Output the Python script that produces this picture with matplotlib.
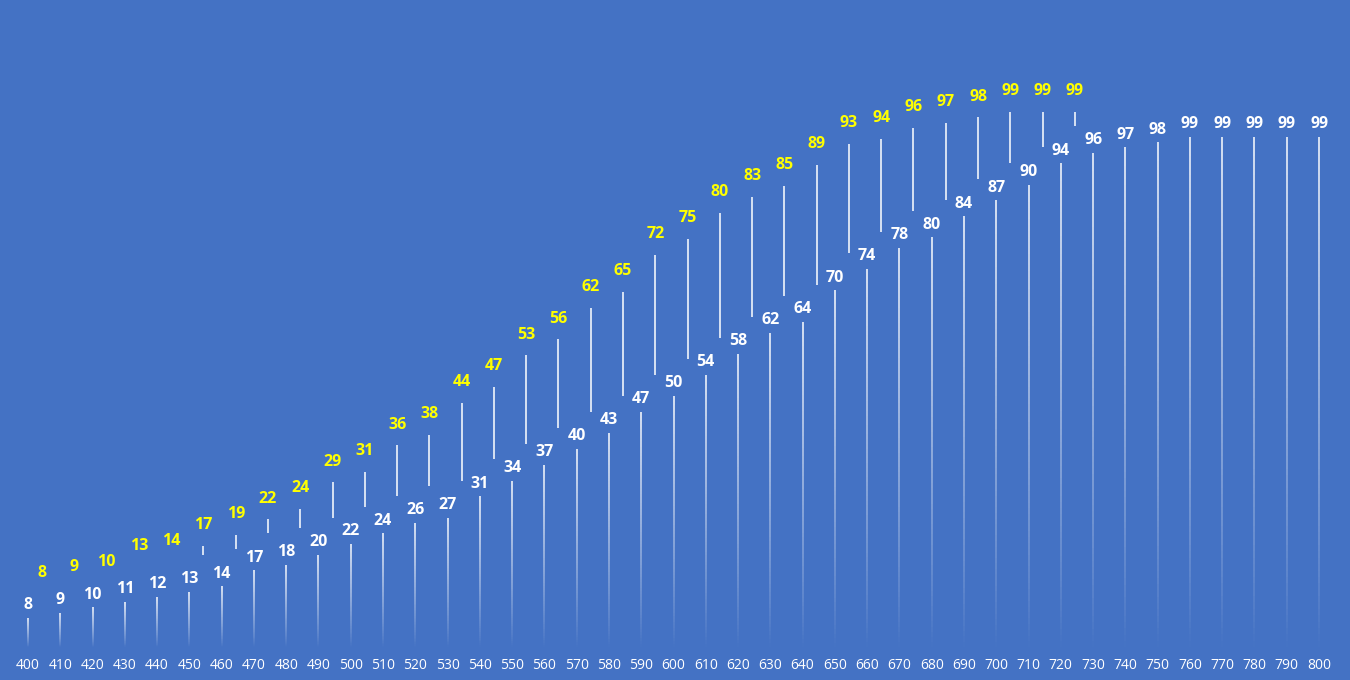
import numpy as np
import matplotlib
matplotlib.use("Agg")
import matplotlib.pyplot as plt
from matplotlib.collections import LineCollection

# ---- data ----
categories = list(range(400, 801, 10))
white_values = [8, 9, 10, 11, 12, 13, 14, 17, 18, 20, 22, 24, 26, 27, 31, 34, 37, 40,
                43, 47, 50, 54, 58, 62, 64, 70, 74, 78, 80, 84, 87, 90, 94, 96, 97, 98,
                99, 99, 99, 99, 99]
yellow_values = [8, 9, 10, 13, 14, 17, 19, 22, 24, 29, 31, 36, 38, 44, 47, 53, 56, 62,
                 65, 72, 75, 80, 83, 85, 89, 93, 94, 96, 97, 98, 99, 99, 99]

# ---- style ----
BG = "#4472C4"
YELLOW = "#FFFF00"
LABEL_FONT = ["Open Sans", "DejaVu Sans"]
TICK_FONT = ["Open Sans", "DejaVu Sans"]
BASE = 2.5          # bottom of the white lines
Y_OFFSET = 0.435    # yellow series shift (in categories)

fig = plt.figure(figsize=(13.5, 6.8), dpi=100, facecolor=BG)
ax = fig.add_axes([0, 30 / 680, 1, 650 / 680])
ax.set_facecolor(BG)
ax.set_xlim(-0.8675, 40.96)
ax.set_ylim(1.95, 124.9)
for s in ax.spines.values():
    s.set_visible(False)

x = np.arange(len(categories))

# white gradient lines
segs, cols = [], []
N = 80
for xi, v in zip(x, white_values):
    ys = np.linspace(BASE, v, N + 1)
    for k in range(N):
        segs.append([(xi, ys[k]), (xi, ys[k + 1])])
        t = (k + 0.5) / N
        cols.append((1, 1, 1, min(1.0, t ** 0.9)))
ax.add_collection(LineCollection(segs, colors=cols, linewidths=1.1, capstyle="butt"))

for xi, v in zip(x, white_values):
    ax.text(xi, v + 2.4, str(v), color="white", ha="center", va="center",
            fontsize=11.5, fontweight="bold", family=LABEL_FONT)

# yellow series: connector lines + labels
for i, yv in enumerate(yellow_values):
    xi = x[i] + Y_OFFSET
    bottom = white_values[i] + 7.0
    top = yv + 4.7
    if top > bottom:
        ax.plot([xi, xi], [bottom, top], color="white", lw=1.1, solid_capstyle="butt")
    ax.text(xi, yv + 8.6, str(yv), color=YELLOW, ha="center", va="center",
            fontsize=11.5, fontweight="bold", family=LABEL_FONT)

ax.set_xticks(x)
ax.set_xticklabels([str(c) for c in categories], color="white", fontsize=10, family=TICK_FONT)
ax.tick_params(axis="x", length=0, pad=5.5)
ax.set_yticks([])

fig.savefig("out.png", dpi=100, facecolor=BG)
